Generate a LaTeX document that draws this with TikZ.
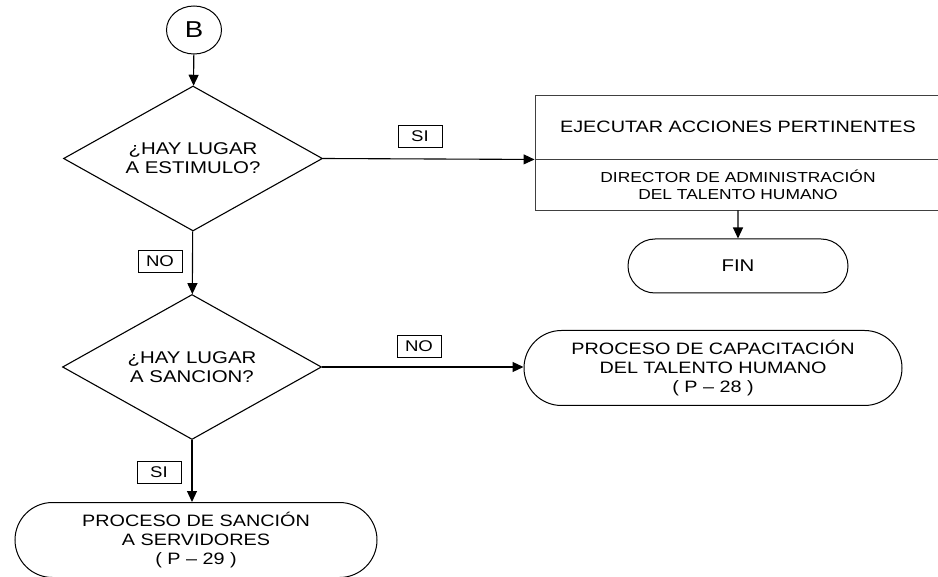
\documentclass[tikz,border=0pt]{standalone}
\usepackage{fontspec}
\setmainfont{Liberation Sans}[FakeStretch=1.2]
\usetikzlibrary{shapes.geometric,shapes.misc,arrows.meta}

\tikzset{
  connector/.style={ellipse, draw, line width=1pt, minimum width=55pt, minimum height=48pt, inner sep=0pt, font=\fontsize{23}{26}\selectfont},
  decision/.style={diamond, draw, line width=1.1pt, aspect=1.79, minimum width=259pt, minimum height=145pt, inner sep=0pt, align=center, font=\fontsize{17}{19}\selectfont},
  terminal/.style={rounded rectangle, draw, line width=1pt, inner sep=0pt, align=center, font=\fontsize{16.5}{19}\selectfont},
  task/.style={rectangle, draw=black!75, line width=0.9pt, minimum width=406pt, inner sep=0pt, align=center},
  answer/.style={rectangle, draw, line width=0.8pt, minimum width=44pt, minimum height=22pt, inner sep=0pt, font=\fontsize{15.5}{17}\selectfont},
  flow/.style={line width=1.1pt, -{Triangle[length=11pt,width=10pt]}}
}

\begin{document}
\begin{tikzpicture}[x=1pt,y=-1pt]
  \useasboundingbox (0,0) rectangle (938,577);
  % Draw the shapes
  \node[connector] (b) at (194,30) {B};
  \node[decision] (d1) at (193,158.5) {¿HAY LUGAR\\A ESTIMULO?};
  \node[decision] (d2) at (192,367) {¿HAY LUGAR\\A SANCION?};
  \node[task, minimum height=64pt, font=\fontsize{16.5}{19}\selectfont] (act) at (738,127) {EJECUTAR ACCIONES PERTINENTES};
  \node[task, minimum height=51pt, font=\fontsize{14.5}{17}\selectfont] (resp) at (738,184.5) {DIRECTOR DE ADMINISTRACIÓN\\DEL TALENTO HUMANO};
  \node[terminal, minimum width=220pt, minimum height=54pt, font=\fontsize{17}{19}\selectfont] (fin) at (738,266) {FIN};
  \node[terminal, minimum width=378pt, minimum height=75pt] (cap) at (713,368) {PROCESO DE CAPACITACIÓN\\DEL TALENTO HUMANO\\( P – 28 )};
  \node[terminal, minimum width=362pt, minimum height=75pt] (sanc) at (196,540) {PROCESO DE SANCIÓN\\A SERVIDORES\\( P – 29 )};
  % Draw the arrows
  \draw[flow] (b) -- (d1);
  \draw[flow] (d1) -- (d2);
  \draw[flow] (d1.east) -- (act.south west);
  \draw[flow] (resp) -- (fin);
  \draw[flow] (d2.east) -- (d2.east -| cap.west);
  \draw[flow] (d2.south) -- (d2.south |- sanc.north);
  % Draw answer labels
  \node[answer] (no1) at (160,261) {NO};
  \node[answer] (si1) at (420,136) {SI};
  \node[answer] (no2) at (419,346) {NO};
  \node[answer] (si2) at (159,472) {SI};
\end{tikzpicture}
\end{document}
